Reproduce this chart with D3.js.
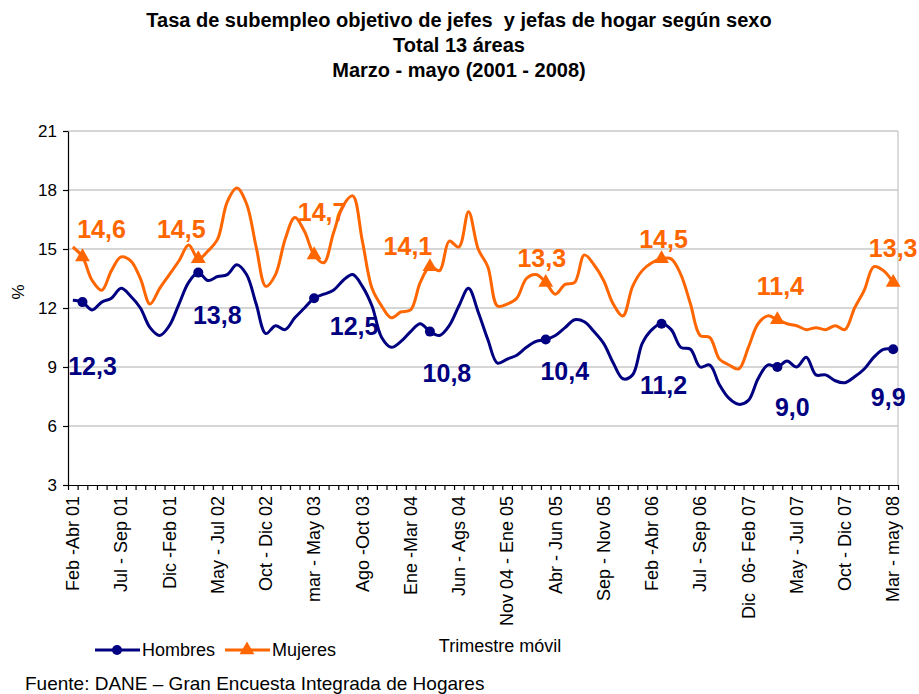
<!DOCTYPE html>
<html>
<head>
<meta charset="utf-8">
<script src="https://cdn.jsdelivr.net/npm/d3@7"></script>
<style>
  body { margin: 0; background: #fff; }
  svg text { font-family: "Liberation Sans", Arial, sans-serif; }
</style>
</head>
<body>
<svg id="chart" width="919" height="694"></svg>
<script>
// rolling quarters Feb-Abr 01 .. Mar-May 08
const monthNames = ["Ene", "Feb", "Mar", "Abr", "May", "Jun", "Jul", "Ago", "Sep", "Oct", "Nov", "Dic"];
const categories = d3.range(86).map(i => {
  const s = i + 1;
  return monthNames[s % 12] + " - " + monthNames[(s + 2) % 12] + " " + String(1 + Math.floor((s + 2) / 12)).padStart(2, "0");
});

const tickLabels = ["Feb -Abr 01", "Jul - Sep 01", "Dic -Feb 01", "May - Jul 02", "Oct - Dic 02",
  "mar - May 03", "Ago -Oct 03", "Ene -Mar 04", "Jun - Ags 04", "Nov 04 - Ene 05", "Abr - Jun 05",
  "Sep - Nov 05", "Feb -Abr 06", "Jul - Sep 06", "Dic  06- Feb 07", "May - Jul 07", "Oct - Dic 07",
  "Mar - may 08"];

const hombres = [12.4, 12.3, 11.9, 12.3, 12.5, 13.0, 12.6, 12.0, 11.0, 10.6,
  11.1, 12.2, 13.3, 13.8, 13.4, 13.6, 13.7, 14.2, 13.7, 12.2,
  10.7, 11.1, 10.9, 11.5, 12.0, 12.5, 12.7, 12.9, 13.4, 13.7,
  13.1, 12.1, 10.5, 10.0, 10.3, 10.8, 11.2, 10.8, 10.6, 11.1,
  12.1, 13.0, 11.8, 10.4, 9.2, 9.4, 9.6, 10.0, 10.3, 10.4,
  10.6, 11.0, 11.4, 11.3, 10.8, 10.2, 9.2, 8.4, 8.6, 10.2,
  10.9, 11.2, 10.9, 10.0, 9.9, 9.0, 9.1, 8.1, 7.4, 7.1,
  7.3, 8.4, 9.1, 9.0, 9.3, 9.0, 9.5, 8.6, 8.6, 8.3,
  8.2, 8.5, 8.9, 9.5, 9.9, 9.9];

const mujeres = [15.1, 14.6, 13.4, 12.9, 13.9, 14.6, 14.4, 13.5, 12.2, 13.0,
  13.7, 14.4, 15.2, 14.5, 14.9, 15.5, 17.4, 18.1, 17.3, 15.1,
  13.1, 13.7, 15.5, 16.6, 15.9, 14.7, 14.3, 15.8, 17.2, 17.7,
  15.4, 13.0, 12.1, 11.5, 11.8, 11.9, 13.3, 14.1, 13.9, 15.4,
  15.1, 16.9, 15.0, 14.1, 12.1, 12.2, 12.5, 13.5, 13.7, 13.3,
  12.7, 13.2, 13.3, 14.7, 14.2, 13.4, 12.2, 11.6, 13.1, 13.9,
  14.3, 14.5, 14.5, 13.7, 12.2, 10.6, 10.5, 9.4, 9.1, 8.9,
  10.0, 11.2, 11.6, 11.4, 11.2, 11.1, 10.9, 11.0, 10.9, 11.1,
  10.9, 12.0, 12.9, 14.1, 13.9, 13.3];

// Mar-May of each year carries a marker and a value label
const markedIdx = [1, 13, 25, 37, 49, 61, 73, 85];

// label placement, pixel offsets from the marked point
const labelOffsetH = [[10, 64], [19, 43], [40, 28], [17, 42], [19, 32], [2, 62], [15, 40], [-5, 48]];
const labelOffsetM = [[19, -28], [-17, -30], [8, -43], [-22, -20], [-4, -24], [2, -20], [3, -34], [0, -34]];

const navy = "#000080", orange = "#FF6600";

const svg = d3.select("#chart");
const plotLeft = 68, plotRight = 898, plotTop = 131, plotBottom = 485;

const x = d3.scalePoint().domain(d3.range(categories.length)).range([plotLeft, plotRight]).padding(0.5);
const xb = d3.scaleLinear().domain([0, categories.length]).range([plotLeft, plotRight]);
const y = d3.scaleLinear().domain([3, 21]).range([plotBottom, plotTop]);
const yTicks = d3.range(3, 22, 3);

// title
const title = ["Tasa de subempleo objetivo de jefes  y jefas de hogar según sexo", "Total 13 áreas", "Marzo - mayo (2001 - 2008)"];
svg.selectAll(".title")
  .data(title)
  .enter()
  .append("text")
  .attr("x", 459)
  .attr("y", (d, i) => 20 + i * 25)
  .attr("dy", "0.35em")
  .attr("text-anchor", "middle")
  .attr("font-size", 20)
  .attr("font-weight", "bold")
  .style("white-space", "pre")
  .text(d => d);

// grid
svg.append("g")
  .selectAll("line")
  .data(yTicks.filter(d => d > 3))
  .enter()
  .append("line")
  .attr("x1", plotLeft).attr("x2", plotRight)
  .attr("y1", d => y(d)).attr("y2", d => y(d))
  .attr("stroke", "#c8c8c8").attr("stroke-width", 1.3);

svg.append("line")
  .attr("x1", plotRight).attr("x2", plotRight)
  .attr("y1", plotTop).attr("y2", plotBottom)
  .attr("stroke", "#c8c8c8").attr("stroke-width", 1.3);

// y axis
const yAxis = svg.append("g")
  .attr("transform", `translate(${plotLeft},0)`)
  .call(d3.axisLeft(y).tickValues(yTicks).tickSize(5).tickSizeOuter(0).tickPadding(6));
yAxis.attr("font-family", null);
yAxis.selectAll("text").attr("font-size", 17).attr("fill", "#000");
yAxis.selectAll("line, path").attr("stroke", "#000").attr("stroke-width", 1.2);

svg.append("text")
  .attr("transform", "translate(18,292) rotate(-90)")
  .attr("text-anchor", "middle")
  .attr("dy", "0.35em")
  .attr("font-size", 17)
  .text("%");

// x axis: ticks at category boundaries
const xAxis = svg.append("g")
  .attr("transform", `translate(0,${plotBottom})`)
  .call(d3.axisBottom(xb).tickValues(d3.range(0, categories.length + 1)).tickSize(5).tickSizeOuter(0).tickFormat(""));
xAxis.selectAll("line, path").attr("stroke", "#000").attr("stroke-width", 1.2);

svg.append("g")
  .selectAll("text")
  .data(tickLabels)
  .enter()
  .append("text")
  .attr("transform", (d, i) => `translate(${x(i * 5)},${plotBottom + 11}) rotate(-90)`)
  .attr("text-anchor", "end")
  .attr("dy", "0.35em")
  .attr("font-size", 18)
  .style("white-space", "pre")
  .text(d => d);

// lines
const line = d3.line()
  .x((d, i) => x(i))
  .y(d => y(d))
  .curve(d3.curveCatmullRom.alpha(0.5));

svg.append("path").datum(hombres)
  .attr("d", line).attr("fill", "none")
  .attr("stroke", navy).attr("stroke-width", 3).attr("stroke-linejoin", "round");

svg.append("path").datum(mujeres)
  .attr("d", line).attr("fill", "none")
  .attr("stroke", orange).attr("stroke-width", 3).attr("stroke-linejoin", "round");

const tri = d3.symbol().type(d3.symbolTriangle).size(95);

svg.append("g").selectAll("circle")
  .data(markedIdx)
  .enter()
  .append("circle")
  .attr("cx", i => x(i)).attr("cy", i => y(hombres[i]))
  .attr("r", 5).attr("fill", navy);

svg.append("g").selectAll("path")
  .data(markedIdx)
  .enter()
  .append("path")
  .attr("d", tri)
  .attr("transform", i => `translate(${x(i)},${y(mujeres[i])})`)
  .attr("fill", orange);

// value labels
const fmt = v => d3.format(".1f")(v).replace(".", ",");

svg.append("g").selectAll("text")
  .data(markedIdx)
  .enter()
  .append("text")
  .attr("x", (i, k) => x(i) + labelOffsetH[k][0])
  .attr("y", (i, k) => y(hombres[i]) + labelOffsetH[k][1])
  .attr("dy", "0.35em")
  .attr("text-anchor", "middle")
  .attr("font-size", 25).attr("font-weight", "bold")
  .attr("fill", navy)
  .text(i => fmt(hombres[i]));

svg.append("g").selectAll("text")
  .data(markedIdx)
  .enter()
  .append("text")
  .attr("x", (i, k) => x(i) + labelOffsetM[k][0])
  .attr("y", (i, k) => y(mujeres[i]) + labelOffsetM[k][1])
  .attr("dy", "0.35em")
  .attr("text-anchor", "middle")
  .attr("font-size", 25).attr("font-weight", "bold")
  .attr("fill", orange)
  .text(i => fmt(mujeres[i]));

// legend
const legend = [
  { name: "Hombres", color: navy, x0: 95, shape: "circle" },
  { name: "Mujeres", color: orange, x0: 225, shape: "triangle" }
];
const lg = svg.append("g").selectAll("g").data(legend).enter().append("g")
  .attr("transform", d => `translate(${d.x0},650)`);
lg.append("line").attr("x1", 0).attr("x2", 45).attr("stroke", d => d.color).attr("stroke-width", 3);
lg.filter(d => d.shape === "circle").append("circle").attr("cx", 22).attr("r", 5).attr("fill", d => d.color);
lg.filter(d => d.shape === "triangle").append("path").attr("d", tri).attr("transform", "translate(22,0)").attr("fill", d => d.color);
lg.append("text").attr("x", 47).attr("dy", "0.35em").attr("font-size", 18).text(d => d.name);

svg.append("text")
  .attr("x", 500).attr("y", 646).attr("dy", "0.35em")
  .attr("text-anchor", "middle").attr("font-size", 18)
  .text("Trimestre móvil");

svg.append("text")
  .attr("x", 25).attr("y", 683).attr("dy", "0.35em")
  .attr("font-size", 19)
  .text("Fuente: DANE – Gran Encuesta Integrada de Hogares");
</script>
</body>
</html>
